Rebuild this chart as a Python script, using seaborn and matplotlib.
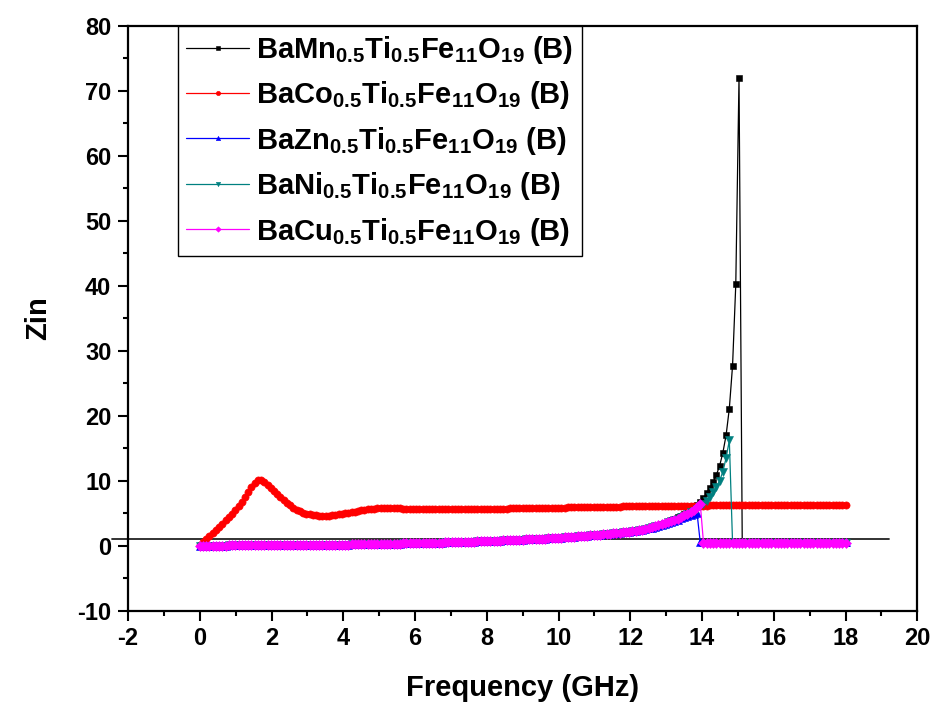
import numpy as np
import matplotlib
matplotlib.use("Agg")
import matplotlib.pyplot as plt
import seaborn as sns
from matplotlib.ticker import MultipleLocator

# ---------------- data ----------------
freq_start, freq_stop, n_points = 0.0, 18.0, 201
frequency = np.linspace(freq_start, freq_stop, n_points)

zin_mn = [
    0.00, 0.00, 0.01, 0.01, 0.01, 0.02, 0.02, 0.02, 0.02, 0.03,
    0.03, 0.03, 0.03, 0.04, 0.04, 0.04, 0.04, 0.05, 0.05, 0.05,
    0.05, 0.06, 0.06, 0.06, 0.07, 0.07, 0.07, 0.08, 0.08, 0.08,
    0.09, 0.09, 0.10, 0.10, 0.11, 0.11, 0.12, 0.12, 0.13, 0.13,
    0.14, 0.15, 0.15, 0.16, 0.17, 0.17, 0.18, 0.19, 0.19, 0.20,
    0.21, 0.22, 0.23, 0.24, 0.25, 0.26, 0.27, 0.28, 0.29, 0.30,
    0.31, 0.32, 0.33, 0.34, 0.35, 0.36, 0.37, 0.38, 0.40, 0.41,
    0.42, 0.43, 0.45, 0.46, 0.47, 0.49, 0.50, 0.52, 0.53, 0.55,
    0.56, 0.58, 0.59, 0.61, 0.63, 0.64, 0.66, 0.68, 0.70, 0.72,
    0.73, 0.75, 0.77, 0.79, 0.81, 0.83, 0.85, 0.87, 0.89, 0.91,
    0.93, 0.96, 0.98, 1.00, 1.03, 1.05, 1.08, 1.10, 1.13, 1.16,
    1.19, 1.22, 1.25, 1.28, 1.31, 1.35, 1.38, 1.42, 1.45, 1.49,
    1.53, 1.57, 1.61, 1.65, 1.69, 1.74, 1.78, 1.83, 1.88, 1.93,
    1.98, 2.03, 2.09, 2.14, 2.20, 2.26, 2.34, 2.45, 2.57, 2.70,
    2.88, 3.03, 3.18, 3.35, 3.52, 3.71, 3.91, 4.13, 4.36, 4.61,
    4.88, 5.18, 5.51, 5.88, 6.28, 6.75, 7.30, 8.05, 8.90, 9.80,
    10.9, 12.3, 14.3, 17.0, 21.1, 27.7, 40.2, 72.0, 0.45, 0.45,
    0.45, 0.45, 0.45, 0.45, 0.45, 0.45, 0.45, 0.45, 0.45, 0.45,
    0.45, 0.45, 0.45, 0.45, 0.45, 0.45, 0.45, 0.45, 0.45, 0.45,
    0.45, 0.45, 0.45, 0.45, 0.45, 0.45, 0.45, 0.45, 0.45, 0.45,
    0.45,
]

zin_co = [
    0.15, 0.60, 1.00, 1.45, 1.95, 2.40, 2.90, 3.40, 3.90, 4.40,
    4.95, 5.50, 6.10, 6.75, 7.50, 8.30, 9.00, 9.70, 10.10, 10.05,
    9.80, 9.40, 8.95, 8.45, 7.95, 7.45, 7.00, 6.60, 6.20, 5.85,
    5.55, 5.30, 5.10, 4.95, 4.82, 4.72, 4.66, 4.62, 4.60, 4.60,
    4.62, 4.66, 4.72, 4.80, 4.88, 4.97, 5.06, 5.15, 5.25, 5.35,
    5.45, 5.53, 5.60, 5.66, 5.70, 5.74, 5.76, 5.77, 5.77, 5.76,
    5.75, 5.74, 5.73, 5.71, 5.70, 5.68, 5.67, 5.66, 5.65, 5.64,
    5.63, 5.62, 5.62, 5.61, 5.61, 5.61, 5.61, 5.61, 5.62, 5.62,
    5.62, 5.63, 5.63, 5.64, 5.64, 5.65, 5.66, 5.66, 5.67, 5.68,
    5.68, 5.69, 5.70, 5.71, 5.71, 5.72, 5.73, 5.74, 5.75, 5.75,
    5.76, 5.77, 5.78, 5.79, 5.80, 5.80, 5.81, 5.82, 5.83, 5.84,
    5.85, 5.86, 5.87, 5.87, 5.88, 5.89, 5.90, 5.91, 5.92, 5.93,
    5.94, 5.95, 5.95, 5.96, 5.97, 5.98, 5.99, 6.00, 6.00, 6.01,
    6.02, 6.03, 6.03, 6.04, 6.05, 6.06, 6.06, 6.07, 6.08, 6.08,
    6.09, 6.10, 6.10, 6.11, 6.11, 6.12, 6.13, 6.13, 6.14, 6.14,
    6.15, 6.15, 6.16, 6.16, 6.17, 6.17, 6.18, 6.18, 6.19, 6.19,
    6.20, 6.20, 6.21, 6.21, 6.21, 6.22, 6.22, 6.23, 6.23, 6.23,
    6.24, 6.24, 6.24, 6.25, 6.25, 6.25, 6.26, 6.26, 6.26, 6.27,
    6.27, 6.27, 6.27, 6.28, 6.28, 6.28, 6.28, 6.29, 6.29, 6.29,
    6.29, 6.30, 6.30, 6.30, 6.30, 6.30, 6.31, 6.31, 6.31, 6.31,
    6.31,
]

zin_zn = [
    0.00, 0.00, 0.01, 0.01, 0.01, 0.02, 0.02, 0.02, 0.02, 0.03,
    0.03, 0.03, 0.03, 0.04, 0.04, 0.04, 0.04, 0.05, 0.05, 0.05,
    0.05, 0.06, 0.06, 0.06, 0.07, 0.07, 0.07, 0.08, 0.08, 0.08,
    0.09, 0.09, 0.10, 0.10, 0.11, 0.11, 0.12, 0.12, 0.13, 0.13,
    0.14, 0.15, 0.15, 0.16, 0.17, 0.17, 0.18, 0.19, 0.19, 0.20,
    0.21, 0.22, 0.23, 0.24, 0.25, 0.26, 0.27, 0.28, 0.29, 0.30,
    0.31, 0.32, 0.33, 0.34, 0.35, 0.36, 0.37, 0.38, 0.40, 0.41,
    0.42, 0.43, 0.45, 0.46, 0.47, 0.49, 0.50, 0.52, 0.53, 0.55,
    0.56, 0.58, 0.59, 0.61, 0.63, 0.64, 0.66, 0.68, 0.70, 0.72,
    0.73, 0.75, 0.77, 0.79, 0.81, 0.83, 0.85, 0.87, 0.89, 0.91,
    0.93, 0.96, 0.98, 1.00, 1.03, 1.05, 1.08, 1.10, 1.13, 1.16,
    1.19, 1.22, 1.25, 1.28, 1.31, 1.35, 1.38, 1.42, 1.45, 1.49,
    1.53, 1.57, 1.61, 1.65, 1.69, 1.74, 1.78, 1.83, 1.88, 1.93,
    1.98, 2.03, 2.09, 2.14, 2.20, 2.26, 2.34, 2.45, 2.57, 2.70,
    2.78, 2.91, 3.05, 3.19, 3.34, 3.50, 3.66, 3.83, 4.01, 4.20,
    4.38, 4.55, 4.72, 4.88, 5.02, 0.50, 0.50, 0.50, 0.50, 0.50,
    0.50, 0.50, 0.50, 0.50, 0.50, 0.50, 0.50, 0.50, 0.50, 0.50,
    0.50, 0.50, 0.50, 0.50, 0.50, 0.50, 0.50, 0.50, 0.50, 0.50,
    0.50, 0.50, 0.50, 0.50, 0.50, 0.50, 0.50, 0.50, 0.50, 0.50,
    0.50, 0.50, 0.50, 0.50, 0.50, 0.50, 0.50, 0.50, 0.50, 0.50,
    0.50,
]

zin_ni = [
    0.00, 0.00, 0.01, 0.01, 0.01, 0.02, 0.02, 0.02, 0.02, 0.03,
    0.03, 0.03, 0.03, 0.04, 0.04, 0.04, 0.04, 0.05, 0.05, 0.05,
    0.05, 0.06, 0.06, 0.06, 0.07, 0.07, 0.07, 0.08, 0.08, 0.08,
    0.09, 0.09, 0.10, 0.10, 0.11, 0.11, 0.12, 0.12, 0.13, 0.13,
    0.14, 0.15, 0.15, 0.16, 0.17, 0.17, 0.18, 0.19, 0.19, 0.20,
    0.21, 0.22, 0.23, 0.24, 0.25, 0.26, 0.27, 0.28, 0.29, 0.30,
    0.31, 0.32, 0.33, 0.34, 0.35, 0.36, 0.37, 0.38, 0.40, 0.41,
    0.42, 0.43, 0.45, 0.46, 0.47, 0.49, 0.50, 0.52, 0.53, 0.55,
    0.56, 0.58, 0.59, 0.61, 0.63, 0.64, 0.66, 0.68, 0.70, 0.72,
    0.73, 0.75, 0.77, 0.79, 0.81, 0.83, 0.85, 0.87, 0.89, 0.91,
    0.93, 0.96, 0.98, 1.00, 1.03, 1.05, 1.08, 1.10, 1.13, 1.16,
    1.19, 1.22, 1.25, 1.28, 1.31, 1.35, 1.38, 1.42, 1.45, 1.49,
    1.53, 1.57, 1.61, 1.65, 1.69, 1.74, 1.78, 1.83, 1.88, 1.93,
    1.98, 2.03, 2.09, 2.14, 2.20, 2.26, 2.34, 2.45, 2.57, 2.70,
    2.82, 2.96, 3.10, 3.25, 3.41, 3.58, 3.76, 3.95, 4.15, 4.37,
    4.60, 4.85, 5.12, 5.40, 5.70, 6.05, 6.45, 6.95, 7.55, 8.25,
    9.05, 10.0, 11.4, 13.5, 16.2, 0.45, 0.45, 0.45, 0.45, 0.45,
    0.45, 0.45, 0.45, 0.45, 0.45, 0.45, 0.45, 0.45, 0.45, 0.45,
    0.45, 0.45, 0.45, 0.45, 0.45, 0.45, 0.45, 0.45, 0.45, 0.45,
    0.45, 0.45, 0.45, 0.45, 0.45, 0.45, 0.45, 0.45, 0.45, 0.45,
    0.45,
]

zin_cu = [
    0.00, 0.00, 0.01, 0.01, 0.01, 0.02, 0.02, 0.02, 0.02, 0.03,
    0.03, 0.03, 0.03, 0.04, 0.04, 0.04, 0.04, 0.05, 0.05, 0.05,
    0.05, 0.06, 0.06, 0.06, 0.07, 0.07, 0.07, 0.08, 0.08, 0.08,
    0.09, 0.09, 0.10, 0.10, 0.11, 0.11, 0.12, 0.12, 0.13, 0.13,
    0.14, 0.15, 0.15, 0.16, 0.17, 0.17, 0.18, 0.19, 0.19, 0.20,
    0.21, 0.22, 0.23, 0.24, 0.25, 0.26, 0.27, 0.28, 0.29, 0.30,
    0.31, 0.32, 0.33, 0.34, 0.35, 0.36, 0.37, 0.38, 0.40, 0.41,
    0.42, 0.43, 0.45, 0.46, 0.47, 0.49, 0.50, 0.52, 0.53, 0.55,
    0.56, 0.58, 0.59, 0.61, 0.63, 0.64, 0.66, 0.68, 0.70, 0.72,
    0.73, 0.75, 0.77, 0.79, 0.81, 0.83, 0.85, 0.87, 0.89, 0.91,
    0.93, 0.96, 0.98, 1.00, 1.03, 1.05, 1.08, 1.10, 1.13, 1.16,
    1.19, 1.22, 1.25, 1.28, 1.31, 1.35, 1.38, 1.42, 1.45, 1.49,
    1.53, 1.57, 1.61, 1.65, 1.69, 1.74, 1.78, 1.83, 1.88, 1.93,
    1.98, 2.03, 2.09, 2.14, 2.20, 2.26, 2.34, 2.45, 2.57, 2.70,
    2.84, 2.98, 3.12, 3.27, 3.43, 3.60, 3.78, 3.97, 4.17, 4.40,
    4.65, 4.92, 5.22, 5.55, 5.95, 6.45, 0.45, 0.45, 0.45, 0.45,
    0.45, 0.45, 0.45, 0.45, 0.45, 0.45, 0.45, 0.45, 0.45, 0.45,
    0.45, 0.45, 0.45, 0.45, 0.45, 0.45, 0.45, 0.45, 0.45, 0.45,
    0.45, 0.45, 0.45, 0.45, 0.45, 0.45, 0.45, 0.45, 0.45, 0.45,
    0.45, 0.45, 0.45, 0.45, 0.45, 0.45, 0.45, 0.45, 0.45, 0.45,
    0.45,
]

series_labels = [
    r"$\mathrm{BaMn_{0.5}Ti_{0.5}Fe_{11}O_{19}}$ (B)",
    r"$\mathrm{BaCo_{0.5}Ti_{0.5}Fe_{11}O_{19}}$ (B)",
    r"$\mathrm{BaZn_{0.5}Ti_{0.5}Fe_{11}O_{19}}$ (B)",
    r"$\mathrm{BaNi_{0.5}Ti_{0.5}Fe_{11}O_{19}}$ (B)",
    r"$\mathrm{BaCu_{0.5}Ti_{0.5}Fe_{11}O_{19}}$ (B)",
]
series_values = [zin_mn, zin_co, zin_zn, zin_ni, zin_cu]
series_colors = ["#000000", "#FF0000", "#0000FF", "#008080", "#FF00FF"]
series_markers = ["s", "o", "^", "v", "D"]
series_msizes = [4.2, 5.2, 5.2, 5.2, 4.6]

# reference line Zin = 1
ref_x = [-2.45, 19.22]
ref_y = [1.0, 1.0]

x_ticks = [-2, 0, 2, 4, 6, 8, 10, 12, 14, 16, 18, 20]
y_ticks = [-10, 0, 10, 20, 30, 40, 50, 60, 70, 80]

# ---------------- style ----------------
sns.set_style("ticks")
plt.rcParams["font.family"] = ["Liberation Sans", "DejaVu Sans"]
plt.rcParams["font.weight"] = "bold"
plt.rcParams["axes.labelweight"] = "bold"
plt.rcParams["text.color"] = "black"
plt.rcParams["axes.labelcolor"] = "black"
plt.rcParams["xtick.color"] = "black"
plt.rcParams["ytick.color"] = "black"
plt.rcParams["axes.edgecolor"] = "black"
plt.rcParams["axes.unicode_minus"] = False
plt.rcParams["mathtext.fontset"] = "custom"
plt.rcParams["mathtext.rm"] = "Liberation Sans:bold"
plt.rcParams["mathtext.it"] = "Liberation Sans:bold"
plt.rcParams["mathtext.bf"] = "Liberation Sans:bold"
plt.rcParams["mathtext.default"] = "rm"

fig = plt.figure(figsize=(9.35, 7.06), dpi=100)
ax = fig.add_axes([0.1369, 0.1350, 0.8442, 0.8286])

ax.plot(ref_x, ref_y, color="#222222", linewidth=1.3, clip_on=False, zorder=1)

for vals, lab, col, mk, ms in zip(series_values, series_labels, series_colors,
                                  series_markers, series_msizes):
    sns.lineplot(x=frequency, y=vals, ax=ax, color=col, marker=mk,
                 markersize=ms, markeredgecolor=col, markeredgewidth=0.4,
                 linewidth=0.9, label=lab, sort=False, errorbar=None, zorder=3)

ax.set_xlim(-2, 20)
ax.set_ylim(-10, 80)
ax.set_xticks(x_ticks)
ax.set_yticks(y_ticks)
ax.xaxis.set_minor_locator(MultipleLocator(1))
ax.yaxis.set_minor_locator(MultipleLocator(5))
ax.tick_params(which="major", direction="out", length=7, width=1.5,
               labelsize=17, pad=5, colors="black")
ax.tick_params(which="minor", direction="out", length=3.8, width=1.5,
               colors="black")
for sp in ax.spines.values():
    sp.set_visible(True)
    sp.set_linewidth(1.6)
    sp.set_color("black")
for lbl in ax.get_xticklabels() + ax.get_yticklabels():
    lbl.set_fontweight("bold")

ax.set_xlabel("Frequency (GHz)", fontsize=21, fontweight="bold", labelpad=17)
ax.set_ylabel("Zin", fontsize=21, fontweight="bold", labelpad=18)

leg = ax.legend(loc="upper left", bbox_to_anchor=(0.0634, 1.0),
                borderaxespad=0, frameon=True, fancybox=False,
                edgecolor="black", framealpha=1, fontsize=21,
                handlelength=2.15, handletextpad=0.25, labelspacing=0.46,
                borderpad=0.28, markerscale=0.6)
leg.get_frame().set_linewidth(1.0)
for t in leg.get_texts():
    t.set_fontweight("bold")
    t.set_color("black")

fig.savefig("out.png", dpi=100)
